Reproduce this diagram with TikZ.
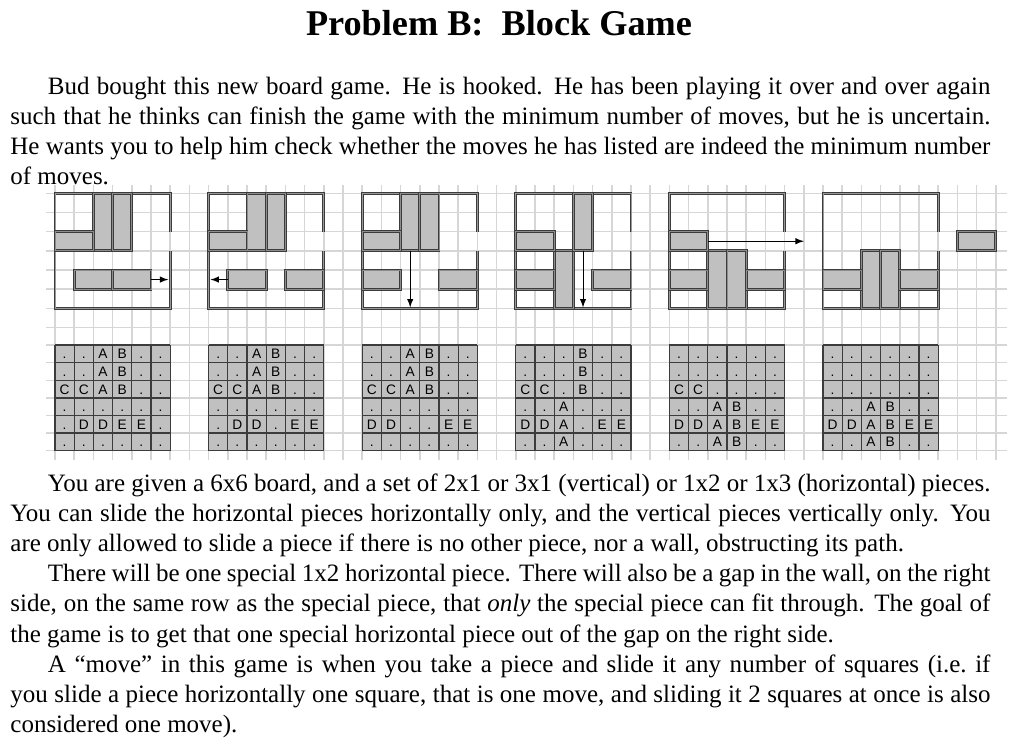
\documentclass[tikz,border=0pt]{standalone}
\usepackage{fontspec}
\setmainfont{Liberation Serif}
\setsansfont{Liberation Sans}
\usepackage{xcolor}
\usepackage{tikz}
\usetikzlibrary{arrows}
\definecolor{cellgray}{HTML}{C0C0C0}
\definecolor{gridgray}{HTML}{D6D6D6}
\definecolor{edgegray}{HTML}{3C3C3C}
\tikzstyle{gridline} = [draw=gridgray, line width=0.75pt]
\tikzstyle{wall} = [draw=edgegray, line width=0.45pt, double=black!40, double distance=0.45pt]
\tikzstyle{piece} = [rectangle, draw=edgegray, line width=0.45pt, double=black!45, double distance=0.45pt, fill=cellgray, inner sep=0pt, outer sep=0pt, anchor=north west]
\tikzstyle{tableline} = [draw=edgegray, line width=0.65pt]
\tikzstyle{cell} = [font=\sffamily\fontsize{6.6}{7}\selectfont, inner sep=0pt, anchor=base]
\tikzstyle{slidearrow} = [thin,->,>=latex]
\tikzstyle{para} = [anchor=base west, text width=470.4pt, inner sep=0pt, align=justify, font=\fontsize{12}{14.5}\selectfont]

\newcommand{\blockpiece}[5]{\node[piece, minimum width=#4*9.216pt, minimum height=#5*9.2pt] (#1) at (#2,#3) {};}
\newcommand{\boardwall}{\draw[wall] (6,2) -- (6,0) -- (0,0) -- (0,6) -- (6,6) -- (6,3);}
\newcommand{\blocktable}[2]{%
  \fill[cellgray] (0,0) rectangle (6,6);
  \foreach \i in {0,...,6} {\draw[tableline] (\i,0) -- (\i,6); \draw[tableline] (0,\i) -- (6,\i);}
  \foreach \rw [count=\ri from 0] in {#2} {
    \foreach \ch [count=\ci from 0] in \rw {\node[cell] (#1-\ri-\ci) at (\ci+0.5,\ri+0.78) {\ch};}
  }}

\begin{document}
\begin{tikzpicture}[x=0.48pt, y=-0.48pt]
	\fill[white] (0,0) rectangle (1018,748);
	% background grid
	\foreach \i in {0,...,49} \draw[gridline] ({55+\i*19.2},185) -- ({55+\i*19.2},460);
	\foreach \y in {193.3,212.5,231.6,250.8,270,289.2,308.3,327.5,345.1,362.7,380.3,397.9,415.5,433.1,450.7}
		\draw[gridline] (46,\y) -- (1007,\y);

	% text
	\node[anchor=base, font=\bfseries\fontsize{17.4}{20}\selectfont] (title) at (499,35) {Problem B:\ \ Block Game};
	\node[para] (intro) at (10,94) {\setlength{\parindent}{18pt}\indent Bud bought this new board game. He is hooked. He has been playing it over and over again\linebreak such that he thinks can finish the game with the minimum number of moves, but he is uncertain.\linebreak He wants you to help him check whether the moves he has listed are indeed the minimum number\linebreak of moves.};
	\node[para] (rules) at (10,491) {\setlength{\parindent}{18pt}\indent You are given a 6x6 board, and a set of 2x1 or 3x1 (vertical) or 1x2 or 1x3 (horizontal) pieces.\linebreak You can slide the horizontal pieces horizontally only, and the vertical pieces vertically only. You\linebreak are only allowed to slide a piece if there is no other piece, nor a wall, obstructing its path.\par
	There will be one special 1x2 horizontal piece. There will also be a gap in the wall, on the right\linebreak side, on the same row as the special piece, that \emph{only} the special piece can fit through. The goal of\linebreak the game is to get that one special horizontal piece out of the gap on the right side.\par
	A ``move'' in this game is when you take a piece and slide it any number of squares (i.e.\ if\linebreak you slide a piece horizontally one square, that is one move, and sliding it 2 squares at once is also\linebreak considered one move).};

	% board 1
	\begin{scope}[shift={(55,193.3)}, x=9.216pt, y=-9.2pt]
		\boardwall
		\blockpiece{b1A}{2}{0}{1}{3}
		\blockpiece{b1B}{3}{0}{1}{3}
		\blockpiece{b1C}{0}{2}{2}{1}
		\blockpiece{b1D}{1}{4}{2}{1}
		\blockpiece{b1E}{3}{4}{2}{1}
		\coordinate (b1to) at (5.9,4.5);
		\draw [slidearrow] (b1E) -- (b1to);
	\end{scope}
	% board 2
	\begin{scope}[shift={(208.6,193.3)}, x=9.216pt, y=-9.2pt]
		\boardwall
		\blockpiece{b2A}{2}{0}{1}{3}
		\blockpiece{b2B}{3}{0}{1}{3}
		\blockpiece{b2C}{0}{2}{2}{1}
		\blockpiece{b2D}{1}{4}{2}{1}
		\blockpiece{b2E}{4}{4}{2}{1}
		\coordinate (b2to) at (0.1,4.5);
		\draw [slidearrow] (b2D) -- (b2to);
	\end{scope}
	% board 3
	\begin{scope}[shift={(362.2,193.3)}, x=9.216pt, y=-9.2pt]
		\boardwall
		\blockpiece{b3A}{2}{0}{1}{3}
		\blockpiece{b3B}{3}{0}{1}{3}
		\blockpiece{b3C}{0}{2}{2}{1}
		\blockpiece{b3D}{0}{4}{2}{1}
		\blockpiece{b3E}{4}{4}{2}{1}
		\coordinate (b3to) at (2.5,5.95);
		\draw [slidearrow] (b3A) -- (b3to);
	\end{scope}
	% board 4
	\begin{scope}[shift={(515.8,193.3)}, x=9.216pt, y=-9.2pt]
		\boardwall
		\blockpiece{b4A}{2}{3}{1}{3}
		\blockpiece{b4B}{3}{0}{1}{3}
		\blockpiece{b4C}{0}{2}{2}{1}
		\blockpiece{b4D}{0}{4}{2}{1}
		\blockpiece{b4E}{4}{4}{2}{1}
		\coordinate (b4to) at (3.5,5.95);
		\draw [slidearrow] (b4B) -- (b4to);
	\end{scope}
	% board 5
	\begin{scope}[shift={(669.4,193.3)}, x=9.216pt, y=-9.2pt]
		\boardwall
		\blockpiece{b5A}{2}{3}{1}{3}
		\blockpiece{b5B}{3}{3}{1}{3}
		\blockpiece{b5C}{0}{2}{2}{1}
		\blockpiece{b5D}{0}{4}{2}{1}
		\blockpiece{b5E}{4}{4}{2}{1}
		\coordinate (b5to) at (7,2.5);
		\draw [slidearrow] (b5C) -- (b5to);
	\end{scope}
	% board 6
	\begin{scope}[shift={(823,193.3)}, x=9.216pt, y=-9.2pt]
		\boardwall
		\blockpiece{b6A}{2}{3}{1}{3}
		\blockpiece{b6B}{3}{3}{1}{3}
		\blockpiece{b6D}{0}{4}{2}{1}
		\blockpiece{b6E}{4}{4}{2}{1}
		\blockpiece{b6C}{7}{2}{2}{1}
	\end{scope}

	% tables
	\begin{scope}[shift={(55,345.1)}, x=9.216pt, y=-8.448pt]
		\blocktable{t1}{{.,.,A,B,.,.},{.,.,A,B,.,.},{C,C,A,B,.,.},{.,.,.,.,.,.},{.,D,D,E,E,.},{.,.,.,.,.,.}}
	\end{scope}
	\begin{scope}[shift={(208.6,345.1)}, x=9.216pt, y=-8.448pt]
		\blocktable{t2}{{.,.,A,B,.,.},{.,.,A,B,.,.},{C,C,A,B,.,.},{.,.,.,.,.,.},{.,D,D,.,E,E},{.,.,.,.,.,.}}
	\end{scope}
	\begin{scope}[shift={(362.2,345.1)}, x=9.216pt, y=-8.448pt]
		\blocktable{t3}{{.,.,A,B,.,.},{.,.,A,B,.,.},{C,C,A,B,.,.},{.,.,.,.,.,.},{D,D,.,.,E,E},{.,.,.,.,.,.}}
	\end{scope}
	\begin{scope}[shift={(515.8,345.1)}, x=9.216pt, y=-8.448pt]
		\blocktable{t4}{{.,.,.,B,.,.},{.,.,.,B,.,.},{C,C,.,B,.,.},{.,.,A,.,.,.},{D,D,A,.,E,E},{.,.,A,.,.,.}}
	\end{scope}
	\begin{scope}[shift={(669.4,345.1)}, x=9.216pt, y=-8.448pt]
		\blocktable{t5}{{.,.,.,.,.,.},{.,.,.,.,.,.},{C,C,.,.,.,.},{.,.,A,B,.,.},{D,D,A,B,E,E},{.,.,A,B,.,.}}
	\end{scope}
	\begin{scope}[shift={(823,345.1)}, x=9.216pt, y=-8.448pt]
		\blocktable{t6}{{.,.,.,.,.,.},{.,.,.,.,.,.},{.,.,.,.,.,.},{.,.,A,B,.,.},{D,D,A,B,E,E},{.,.,A,B,.,.}}
	\end{scope}
\end{tikzpicture}
\end{document}
